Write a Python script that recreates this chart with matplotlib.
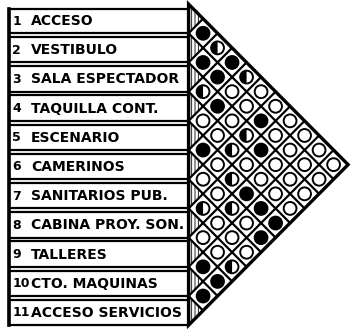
import matplotlib
matplotlib.use("Agg")
import matplotlib.pyplot as plt
from matplotlib.patches import Polygon, Circle, Wedge, Rectangle

# room list (number, name)
numbers = ["1", "2", "3", "4", "5", "6", "7", "8", "9", "10", "11"]
names = ["ACCESO", "VESTIBULO", "SALA ESPECTADOR", "TAQUILLA CONT.", "ESCENARIO",
         "CAMERINOS", "SANITARIOS PUB.", "CABINA PROY. SON.", "TALLERES",
         "CTO. MAQUINAS", "ACCESO SERVICIOS"]

# relationship between room i and rooms j>i : 2 = direct, 1 = indirect, 0 = none
rel_1 = [2, 1, 2, 1, 0, 0, 0, 0, 0, 0]
rel_2 = [2, 2, 0, 0, 2, 0, 0, 0, 0]
rel_3 = [1, 2, 0, 1, 2, 0, 0, 0]
rel_4 = [0, 0, 1, 0, 0, 0, 0]
rel_5 = [2, 0, 1, 2, 2, 2]
rel_6 = [0, 0, 1, 0, 2]
rel_7 = [1, 0, 0, 0]
rel_8 = [0, 0, 1]
rel_9 = [2, 2]
rel_10 = [2]
relations = [rel_1, rel_2, rel_3, rel_4, rel_5, rel_6, rel_7, rel_8, rel_9, rel_10]

n = len(names)
plt.rcParams['hatch.linewidth'] = 0.6

fig = plt.figure(figsize=(3.51, 3.29), dpi=100)
ax = fig.add_axes([0, 0, 1, 1])
ax.set_xlim(-6.5, 5.6)
ax.set_ylim(11.13, -0.14)
ax.axis('off')

# label boxes
for k in range(n):
    top = k + (0.17 if k == 0 else 0.13)
    ax.add_patch(Rectangle((-6.2, top), 6.22, k + 1 - top, fill=False,
                           edgecolor='black', lw=1.6, zorder=3))
    ax.text(-6.08, k + 0.58, numbers[k], fontsize=9, fontweight='bold',
            ha='left', va='center')
    ax.text(-5.43, k + 0.58, names[k], fontsize=10, fontweight='bold',
            ha='left', va='center')
ax.plot([-6.2, -6.2], [0.17, n], color='black', lw=2.6, zorder=4)

# hatched half cells along the left edge
for k in range(n):
    ax.add_patch(Polygon([(0, k), (0.5, k + 0.5), (0, k + 1)], closed=True,
                         facecolor='white', edgecolor='black', hatch='|||||',
                         lw=0, zorder=1))

# diamond grid
for k in range(1, n):
    ax.plot([0, (n - k) / 2], [k, (n + k) / 2], color='black', lw=1.6, zorder=2)
    ax.plot([0, k / 2], [k, k / 2], color='black', lw=1.6, zorder=2)

# triangle outline
ax.add_patch(Polygon([(0, 0), (n / 2, n / 2), (0, n)], closed=True, fill=False,
                     edgecolor='black', lw=2.4, zorder=5, joinstyle='miter'))

# circles
r = 0.22
for i, row in enumerate(relations):
    for m, val in enumerate(row):
        j = i + 1 + m
        cx = (j - i) / 2
        cy = (i + j + 1) / 2
        if val == 2:
            ax.add_patch(Circle((cx, cy), r, facecolor='black', edgecolor='black',
                                lw=1.4, zorder=4))
        elif val == 1:
            ax.add_patch(Circle((cx, cy), r, facecolor='white', edgecolor='black',
                                lw=1.4, zorder=4))
            ax.add_patch(Wedge((cx, cy), r, 90, 270, facecolor='black',
                               edgecolor='black', lw=0, zorder=4))
        else:
            ax.add_patch(Circle((cx, cy), r, facecolor='white', edgecolor='black',
                                lw=1.4, zorder=4))

fig.savefig("out.png", dpi=100)
